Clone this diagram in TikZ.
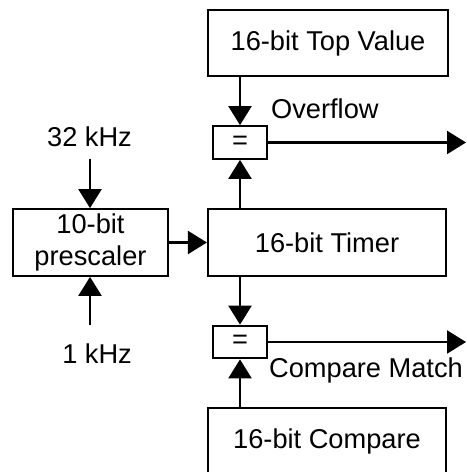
\documentclass[tikz,border=0pt]{standalone}
\usepackage{fontspec}
\setmainfont{Liberation Sans}
\usetikzlibrary{arrows.meta}
\begin{document}
\begin{tikzpicture}[x=0.02cm,y=-0.02cm,
  font=\fontsize{15.5}{18.7}\selectfont,
  line width=0.045cm,
  blk/.style={draw,inner sep=0pt,minimum height=1.33cm},
  eqbox/.style={draw,inner sep=0pt,minimum width=1.09cm,minimum height=0.65cm},
  sig/.style={-{Triangle[length=0.38cm,width=0.46cm]}}]
\useasboundingbox (0,0) rectangle (466,472);
\clip (0,0) rectangle (466,472);

\node[blk,minimum width=4.8cm] (top) at (328,43) {16-bit Top Value};
\node[blk,minimum width=4.76cm] (timer) at (327,242.5) {16-bit Timer};
\node[blk,minimum width=4.76cm] (cmp) at (327,441.5) {16-bit Compare};
\node[blk,minimum width=3.1cm,align=center] (pre) at (90.5,242.5) {10-bit\\prescaler};
\node[eqbox] (eqA) at (240,142.5) {=};
\node[eqbox] (eqB) at (240,342) {=};

\node[anchor=base west,inner sep=0pt] (ovf) at (270,119) {Overflow};
\node[anchor=base west,inner sep=0pt] (cm) at (268,377) {Compare Match};
\node[anchor=base east,inner sep=0pt] (f32) at (133,147) {32 kHz};
\node[anchor=base east,inner sep=0pt] (f1) at (133,363) {1 kHz};

\coordinate (in32) at (90,159);
\coordinate (in1) at (90,325);
\coordinate (outA) at (466,142.5);
\coordinate (outB) at (466,342);

\draw[sig] (eqA |- top.south) -- (eqA.north);
\draw[sig] (eqA |- timer.north) -- (eqA.south);
\draw[sig] (eqB |- timer.south) -- (eqB.north);
\draw[sig] (eqB |- cmp.north) -- (eqB.south);
\draw[sig] (eqA.east) -- (outA);
\draw[sig] (eqB.east) -- (outB);
\draw[sig] (pre.east) -- (timer.west);
\draw[sig] (in32) -- (in32 |- pre.north);
\draw[sig] (in1) -- (in1 |- pre.south);
\end{tikzpicture}
\end{document}
